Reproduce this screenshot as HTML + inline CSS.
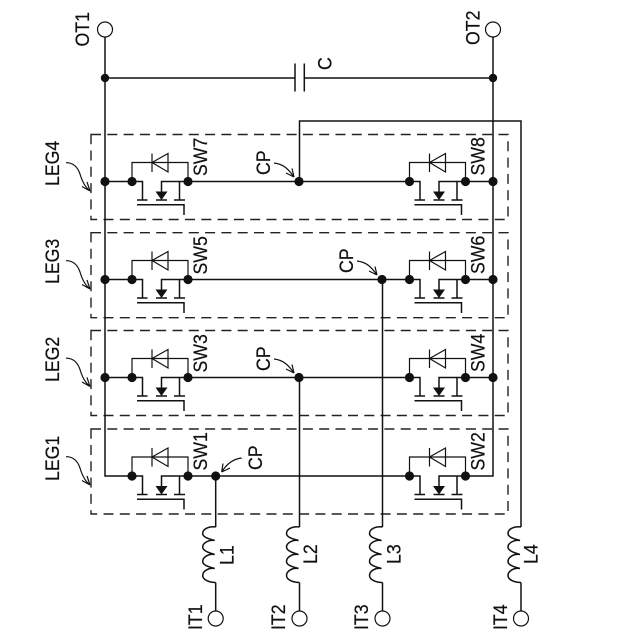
<!DOCTYPE html>
<html><head><meta charset="utf-8">
<style>
html,body{margin:0;padding:0;background:#fff}
svg{display:block}
text{font-family:"Liberation Sans",sans-serif;font-size:17.7px;fill:#111;stroke:#111;stroke-width:.2}
.w{fill:none;stroke:#111;stroke-width:1.5}
.t{fill:none;stroke:#111;stroke-width:1.2}
.d{fill:none;stroke:#222;stroke-width:1.4;stroke-dasharray:10 6.3}
</style></head><body>
<svg width="640" height="640" viewBox="0 0 640 640" xmlns="http://www.w3.org/2000/svg">
<defs>
<g id="sw">
  <path class="t" d="M132 181.5V162.5H188V181.5"/>
  <path class="t" d="M152 162.5L168 153.5V172Z"/>
  <path class="t" d="M152 153.5V172"/>
  <path class="w" d="M132 181.5H142.5V200"/>
  <path class="w" d="M188 181.5H161.5V193"/>
  <path class="w" d="M179.5 181.5V200"/>
  <path class="w" d="M137 200H147.5M174 200H185M156 200H167"/>
  <path d="M155.500 191.500H167.500L161.500 200Z" fill="#111"/>
  <path class="w" d="M137 204.7H184V215"/>
  <circle cx="132" cy="181.5" r="4.600" fill="#111"/>
  <circle cx="188" cy="181.5" r="4.600" fill="#111"/>
</g>
<path id="coil" class="w" d="M0 0C-7 -1 -13 2 -13 6.500C-13 10.500 -6 12 -1 13.500C-7 12.500 -13 16 -13 20C-13 24 -6 26 -1 27.500C-7 26.500 -13 30 -13 34.500C-13 38.500 -6 40 -1 41.500C-7 40.500 -13 44 -13 48.500C-13 53 -6 55.500 0 55.500"/>
<path id="larr" d="M66 456.700C74 456.700 78 462 80 468C82 475 85 481 90 485M90 485L82 480.500M90 485L87 476" class="t"/>
<path id="carr" d="M274 163C284 164 289 170 294 177M294 177L286 173M294 177L292 168.500" class="t"/>
</defs>

<!-- dashed leg boxes -->
<rect class="d" x="91" y="134.500" width="417" height="85"/>
<rect class="d" x="91" y="232.700" width="417" height="85"/>
<rect class="d" x="91" y="330.500" width="417" height="85"/>
<rect class="d" x="91" y="429" width="417" height="85"/>

<!-- rails -->
<path class="w" d="M105 37V476H132"/>
<path class="w" d="M493 37V476H465"/>
<path class="w" d="M105 78H295M304.300 78H493"/>
<path class="w" d="M295 63.500V91.500M304.300 63.500V91.500" stroke-width="1.3"/>
<circle class="t" cx="105" cy="29.500" r="7.500"/>
<circle class="t" cx="493" cy="29.500" r="7.500"/>
<circle cx="105" cy="78" r="4.200" fill="#111"/>
<circle cx="493" cy="78" r="4.200" fill="#111"/>

<!-- row wires -->
<path class="w" d="M105 181.500H132M188 181.500H410M465 181.500H493"/>
<path class="w" d="M105 279.500H132M188 279.500H410M465 279.500H493"/>
<path class="w" d="M105 377.500H132M188 377.500H410M465 377.500H493"/>
<path class="w" d="M188 476H410"/>

<!-- switches -->
<use href="#sw"/>
<use href="#sw" x="277.500"/>
<use href="#sw" y="98"/>
<use href="#sw" x="277.500" y="98"/>
<use href="#sw" y="196"/>
<use href="#sw" x="277.500" y="196"/>
<use href="#sw" y="294.500"/>
<use href="#sw" x="277.500" y="294.500"/>

<!-- rail dots -->
<g fill="#111">
<circle cx="105" cy="181.500" r="4.600"/><circle cx="493" cy="181.500" r="4.600"/>
<circle cx="105" cy="279.500" r="4.600"/><circle cx="493" cy="279.500" r="4.600"/>
<circle cx="105" cy="377.500" r="4.600"/><circle cx="493" cy="377.500" r="4.600"/>
<circle cx="299" cy="181.500" r="4.600"/>
<circle cx="382" cy="279.500" r="4.600"/>
<circle cx="299" cy="377.500" r="4.600"/>
<circle cx="215.700" cy="476" r="4.600"/>
</g>

<!-- output wires -->
<path class="w" d="M299.500 181.500V121H521V527"/>
<path class="w" d="M215.700 476V527M215.700 582.500V611"/>
<path class="w" d="M299.500 377.500V527M299.500 582.500V611"/>
<path class="w" d="M382.500 279.500V527M382.500 582.500V611"/>
<path class="w" d="M521 582.500V611"/>
<use href="#coil" x="215.700" y="527"/>
<use href="#coil" x="299.500" y="527"/>
<use href="#coil" x="382.500" y="527"/>
<use href="#coil" x="521" y="527"/>
<circle class="t" cx="215.700" cy="618.500" r="7.500"/>
<circle class="t" cx="299.500" cy="618.500" r="7.500"/>
<circle class="t" cx="382.500" cy="618.500" r="7.500"/>
<circle class="t" cx="521" cy="618.500" r="7.500"/>

<!-- curved pointers -->
<use href="#larr"/>
<use href="#larr" y="-98.500"/>
<use href="#larr" y="-196"/>
<use href="#larr" y="-294"/>
<use href="#carr"/>
<use href="#carr" x="83" y="98"/>
<use href="#carr" y="196"/>
<path class="t" d="M241.700 458C232 459 226 465 221.700 472M221.700 472L223 463.500M221.700 472L230 468"/>

<!-- labels -->
<text transform="translate(89,46.500) rotate(-90) scale(1,1.12)">OT1</text>
<text transform="translate(479.500,45) rotate(-90) scale(1,1.12)">OT2</text>
<text transform="translate(331.500,70) rotate(-90) scale(1,1.12)">C</text>

<text transform="translate(59,186) rotate(-90) scale(1,1.12)">LEG4</text>
<text transform="translate(59,284) rotate(-90) scale(1,1.12)">LEG3</text>
<text transform="translate(59,382) rotate(-90) scale(1,1.12)">LEG2</text>
<text transform="translate(59,481) rotate(-90) scale(1,1.12)">LEG1</text>

<text transform="translate(207,176) rotate(-90) scale(1,1.12)">SW7</text>
<text transform="translate(207,274.500) rotate(-90) scale(1,1.12)">SW5</text>
<text transform="translate(207,372.500) rotate(-90) scale(1,1.12)">SW3</text>
<text transform="translate(207,470.500) rotate(-90) scale(1,1.12)">SW1</text>
<text transform="translate(484.500,175.500) rotate(-90) scale(1,1.12)">SW8</text>
<text transform="translate(484.500,274) rotate(-90) scale(1,1.12)">SW6</text>
<text transform="translate(484.500,372) rotate(-90) scale(1,1.12)">SW4</text>
<text transform="translate(484.500,470.500) rotate(-90) scale(1,1.12)">SW2</text>

<text transform="translate(270,175) rotate(-90) scale(1,1.12)">CP</text>
<text transform="translate(353,273) rotate(-90) scale(1,1.12)">CP</text>
<text transform="translate(270,371) rotate(-90) scale(1,1.12)">CP</text>
<text transform="translate(262,470) rotate(-90) scale(1,1.12)">CP</text>

<text transform="translate(233.500,565) rotate(-90) scale(1,1.12)">L1</text>
<text transform="translate(317,564) rotate(-90) scale(1,1.12)">L2</text>
<text transform="translate(400.500,564) rotate(-90) scale(1,1.12)">L3</text>
<text transform="translate(537.500,564) rotate(-90) scale(1,1.12)">L4</text>

<text transform="translate(202,630) rotate(-90) scale(1,1.12)">IT1</text>
<text transform="translate(285,630) rotate(-90) scale(1,1.12)">IT2</text>
<text transform="translate(368,630) rotate(-90) scale(1,1.12)">IT3</text>
<text transform="translate(507,630) rotate(-90) scale(1,1.12)">IT4</text>
</svg>
</body></html>
